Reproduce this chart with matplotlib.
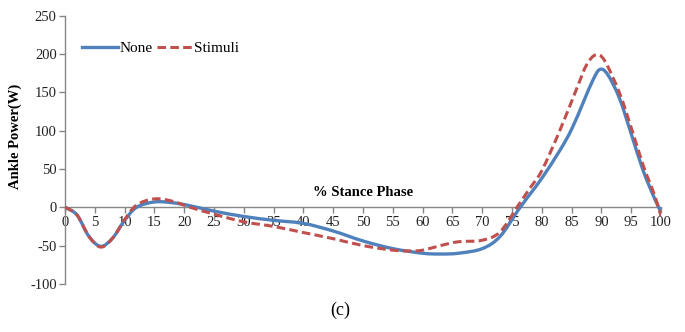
import matplotlib
matplotlib.use("Agg")
import matplotlib.pyplot as plt
import numpy as np
from matplotlib.path import Path
from matplotlib.patches import PathPatch
from matplotlib.lines import Line2D

plt.rcParams["axes.unicode_minus"] = False

# % stance phase and ankle power (W)
stance_none = [0, 2, 4, 6, 8, 10, 12, 15, 18, 21, 25, 30, 35, 40, 45, 50, 55, 60,
               63, 66, 70, 73, 76, 78, 80, 83, 85, 87, 88.5, 89.7, 91, 93, 95, 97, 99, 100]
power_none = [0, -10, -38, -51, -40, -17, 0, 7, 6, 2, -5, -12, -17, -21, -31, -44, -54, -60,
              -61, -60, -54, -38, -4, 17, 38, 74, 102, 138, 165, 180, 174, 143, 96, 48, 10, -6]

stance_stim = [0, 2, 4, 6, 8, 10, 12, 15, 18, 21, 25, 30, 35, 40, 45, 50, 55, 58, 60,
               63, 66, 70, 73, 76, 78, 80, 83, 86, 87.5, 89, 90.5, 93, 95, 97, 99, 100]
power_stim = [0, -10, -38, -52, -40, -16, 3, 11, 8, 0, -9, -19, -25, -33, -41, -50, -56, -57, -56,
              -50, -45, -43, -32, 2, 25, 48, 100, 158, 186, 199, 192, 150, 104, 55, 14, -12]

series_labels = ["None", "Stimuli"]
x_ticks = list(range(0, 101, 5))
y_ticks = list(range(-100, 251, 50))

BLUE = "#4F81BD"
RED = "#C0504D"
AXIS = "#868686"
SERIF = ["Liberation Serif", "DejaVu Serif"]


def smooth_path(x, y, tension=1.0):
    """Catmull-Rom style cubic Bezier path through the given points."""
    pts = np.column_stack([x, y]).astype(float)
    n = len(pts)
    verts = [pts[0]]
    codes = [Path.MOVETO]
    for i in range(n - 1):
        p0 = pts[i - 1] if i > 0 else pts[i]
        p1 = pts[i]
        p2 = pts[i + 1]
        p3 = pts[i + 2] if i + 2 < n else pts[i + 1]
        c1 = p1 + (p2 - p0) / 6.0 * tension
        c2 = p2 - (p3 - p1) / 6.0 * tension
        verts += [c1, c2, p2]
        codes += [Path.CURVE4] * 3
    return Path(verts, codes)


fig = plt.figure(figsize=(6.85, 3.32), dpi=100)
ax = fig.add_axes([0.095, 0.145, 0.870, 0.807])

ax.add_patch(PathPatch(smooth_path(stance_none, power_none), fill=False,
                       edgecolor=BLUE, lw=2.4, capstyle="round", joinstyle="round",
                       zorder=3))
ax.add_patch(PathPatch(smooth_path(stance_stim, power_stim), fill=False,
                       edgecolor=RED, lw=2.2, linestyle=(0, (2.8, 1.4)),
                       zorder=4))

ax.set_xlim(0, 100)
ax.set_ylim(-100, 250)
ax.set_xticks(x_ticks)
ax.set_yticks(y_ticks)

for side in ("top", "right"):
    ax.spines[side].set_visible(False)
ax.spines["bottom"].set_position(("data", 0))
ax.spines["bottom"].set_color(AXIS)
ax.spines["left"].set_color(AXIS)
ax.spines["bottom"].set_linewidth(1.0)
ax.spines["left"].set_linewidth(1.0)

ax.tick_params(axis="both", direction="out", length=4, color=AXIS, width=1.0,
               labelsize=10.5, labelcolor="#222222", pad=2)
for lbl in ax.get_xticklabels() + ax.get_yticklabels():
    lbl.set_family(SERIF)

ax.set_ylabel("Ankle Power(W)", fontsize=10.5, fontweight="bold", family=SERIF,
              labelpad=2)
ax.yaxis.set_label_coords(-0.072, 0.55)
ax.text(0.5, 0.318, "% Stance Phase", transform=ax.transAxes, ha="center", va="bottom",
        fontsize=10.5, fontweight="bold", family=SERIF)

handles = [Line2D([], [], color=BLUE, lw=2.4),
           Line2D([], [], color=RED, lw=2.2, linestyle=(0, (2.8, 1.4)))]
ax.legend(handles, series_labels, loc="upper left", bbox_to_anchor=(0.005, 0.955),
          ncol=2, frameon=False, handlelength=2.35, handletextpad=0.1,
          columnspacing=0.3, prop={"family": SERIF, "size": 11})

fig.text(0.497, 0.04, "(c)", ha="center", va="bottom", fontsize=13, family=SERIF)

fig.savefig("out.png", dpi=100)
